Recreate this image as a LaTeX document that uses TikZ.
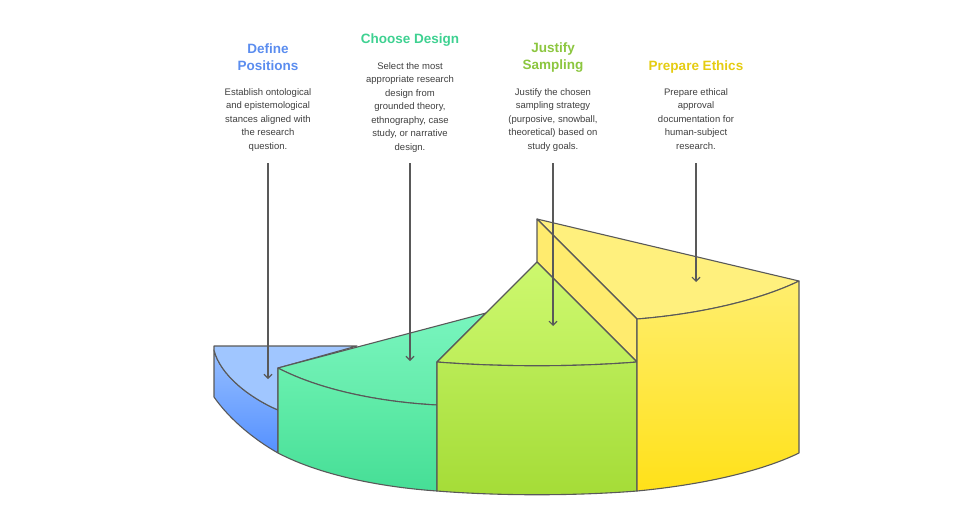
\documentclass[tikz,border=0pt]{standalone}
\usepackage{fontspec}
\setmainfont{Liberation Sans}
\usetikzlibrary{arrows.meta}
\begin{document}
\begin{tikzpicture}[x=1pt,y=-1pt,
  face/.style={draw=black!65,line width=1.1pt,line join=round},
  ttl/.style={font=\bfseries\fontsize{13.5}{17}\selectfont,align=center},
  dsc/.style={font=\fontsize{9.5}{13.5}\selectfont,text=black!75,align=center},
  arr/.style={draw=black!65,line width=1.1pt,-{Straight Barb[length=4pt,width=8pt]}}]
\definecolor{cb}{HTML}{5B8DEF}\definecolor{cg}{HTML}{3ED191}
\definecolor{cl}{HTML}{8CC63F}\definecolor{cy}{HTML}{E5CC12}
\useasboundingbox (0,0) rectangle (980,517);
% blue
\path[face,top color={rgb,255:red,150;green,190;blue,255},bottom color={rgb,255:red,85;green,145;blue,255}] (214,350) .. controls (220,375) and (250,398) .. (278,410)--(278,453) .. controls (255,440) and (230,420) .. (214,397)--cycle;
\path[face,fill={rgb,255:red,160;green,198;blue,255}] (214,346)--(357,346)--(278,368)--(278,410) .. controls (250,398) and (220,375) .. (214,350)--cycle;
% green
\path[face,top color={rgb,255:red,120;green,245;blue,190},bottom color={rgb,255:red,100;green,235;blue,170}] (278,368)--(486,313)--(437,362)--(437,405) .. controls (380,402) and (320,390) .. (278,368)--cycle;
\path[face,top color={rgb,255:red,105;green,240;blue,175},bottom color={rgb,255:red,70;green,222;blue,150}] (278,368) .. controls (320,390) and (380,402) .. (437,405)--(437,491) .. controls (380,487) and (320,475) .. (278,453)--cycle;
% yellow top and side
\path[face,fill={rgb,255:red,255;green,240;blue,125}] (537,219)--(799,281) .. controls (760,300) and (700,314) .. (637,319)--cycle;
\path[face,fill={rgb,255:red,255;green,235;blue,110}] (537,219)--(637,319)--(637,362)--(537,262)--cycle;
% lime
\path[face,top color={rgb,255:red,205;green,248;blue,110},bottom color={rgb,255:red,190;green,238;blue,90}] (437,362)--(537,262)--(637,362) .. controls (574,367) and (500,367) .. (437,362)--cycle;
\path[face,top color={rgb,255:red,185;green,235;blue,85},bottom color={rgb,255:red,165;green,220;blue,55}] (437,362) .. controls (500,367) and (574,367) .. (637,362)--(637,491) .. controls (574,496) and (500,496) .. (437,491)--cycle;
% yellow front
\path[face,top color={rgb,255:red,255;green,238;blue,110},bottom color={rgb,255:red,255;green,225;blue,25}] (637,319) .. controls (700,314) and (760,300) .. (799,281)--(799,453) .. controls (760,472) and (700,485) .. (637,491)--cycle;
% texts
\node[ttl,text=cb] (t1) at (268,57) {Define\\Positions};
\node[dsc,anchor=north] (d1) at (268,85) {Establish ontological\\and epistemological\\stances aligned with\\the research\\question.};
\node[ttl,text=cg] (t2) at (410,40) {Choose Design};
\node[dsc,anchor=north] (d2) at (410,59) {Select the most\\appropriate research\\design from\\grounded theory,\\ethnography, case\\study, or narrative\\design.};
\node[ttl,text=cl] (t3) at (553,58) {Justify\\Sampling};
\node[dsc,anchor=north] (d3) at (553,85) {Justify the chosen\\sampling strategy\\(purposive, snowball,\\theoretical) based on\\study goals.};
\node[ttl,text=cy] (t4) at (696,67) {Prepare Ethics};
\node[dsc,anchor=north] (d4) at (696,85) {Prepare ethical\\approval\\documentation for\\human-subject\\research.};
\coordinate (e1) at (268,379);\coordinate (e2) at (410,361);
\coordinate (e3) at (553,326);\coordinate (e4) at (696,282);
\draw[arr] (268,163)--(e1);
\draw[arr] (410,163)--(e2);
\draw[arr] (553,163)--(e3);
\draw[arr] (696,163)--(e4);
\end{tikzpicture}
\end{document}
